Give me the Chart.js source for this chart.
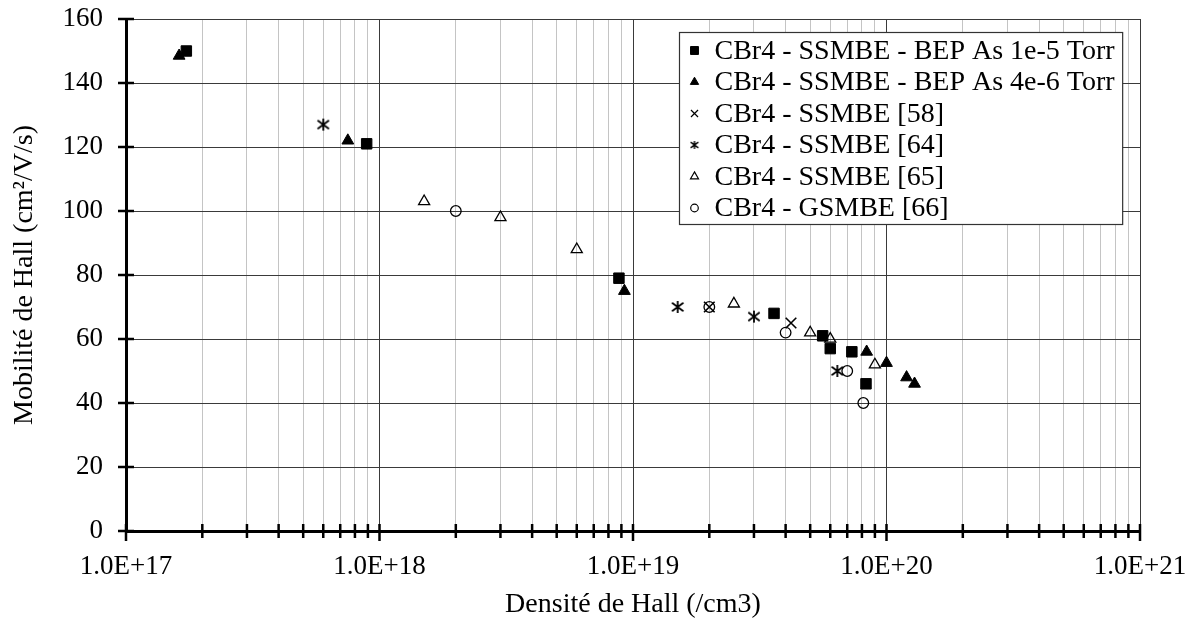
<!DOCTYPE html>
<html>
<head>
<meta charset="utf-8">
<script src="https://cdn.jsdelivr.net/npm/chart.js@4/dist/chart.umd.min.js"></script>
<style>html,body{margin:0;padding:0;background:#fff;}canvas{display:block;}</style>
</head>
<body>
<canvas id="c" width="1195" height="640"></canvas>
<script>
// ---- data ----
const seriesLabels = [
  'CBr4 - SSMBE - BEP As 1e-5 Torr',
  'CBr4 - SSMBE - BEP As 4e-6 Torr',
  'CBr4 - SSMBE [58]',
  'CBr4 - SSMBE [64]',
  'CBr4 - SSMBE [65]',
  'CBr4 - GSMBE [66]'
];
const sqX = [1.73e17, 8.9e17, 8.8e18, 3.6e19, 5.6e19, 6.0e19, 7.3e19, 8.3e19];
const sqY = [150, 121, 79, 68, 61, 57, 56, 46];
const triX = [1.62e17, 7.5e17, 9.25e18, 8.35e19, 1.0e20, 1.2e20, 1.29e20];
const triY = [148.5, 122, 75, 56, 52.5, 48, 46];
const x58X = [2.0e19, 4.2e19];
const x58Y = [70, 65];
const ast64X = [6.0e17, 1.5e19, 3.0e19, 6.4e19];
const ast64Y = [127, 70, 67, 50];
const tri65X = [1.5e18, 3.0e18, 6.0e18, 2.5e19, 5.0e19, 6.0e19, 9.0e19];
const tri65Y = [103, 98, 88, 71, 62, 60, 52];
const circ66X = [2.0e18, 2.0e19, 4.0e19, 7.0e19, 8.1e19];
const circ66Y = [100, 70, 62, 50, 40];

const xDecades = [1e17, 1e18, 1e19, 1e20, 1e21];
const xTickLabels = ['1.0E+17', '1.0E+18', '1.0E+19', '1.0E+20', '1.0E+21'];
const xMinorMultipliers = [2, 3, 4, 5, 6, 7, 8, 9];
const yTicks = [0, 20, 40, 60, 80, 100, 120, 140, 160];
const xTitle = 'Densité de Hall (/cm3)';
const yTitle = 'Mobilité de Hall (cm²/V/s)';

// ---- helpers ----
const FONT = "'Liberation Serif','Times New Roman',serif";
function pts(xs, ys) { return xs.map((x, i) => ({ x: x, y: ys[i] })); }
function makeAsterisk(size, lw) {
  const c = document.createElement('canvas');
  c.width = size; c.height = size;
  const g = c.getContext('2d');
  const h = size / 2, r = h - 1;
  g.strokeStyle = '#000'; g.lineWidth = lw;
  g.beginPath();
  g.moveTo(h, h - r); g.lineTo(h, h + r);
  const dx = r * 0.95, dy = r * 0.72;
  g.moveTo(h - dx, h - dy); g.lineTo(h + dx, h + dy);
  g.moveTo(h - dx, h + dy); g.lineTo(h + dx, h - dy);
  g.stroke();
  return c;
}
const asteriskBig = makeAsterisk(14, 1.8);
const asteriskSmall = makeAsterisk(10, 1.4);

const allXTicks = [];
xDecades.forEach((d, i) => {
  allXTicks.push(d);
  if (i < xDecades.length - 1) xMinorMultipliers.forEach(m => allXTicks.push(m * d));
});
const isDecade = v => xDecades.indexOf(v) >= 0;

const datasets = [
  { label: seriesLabels[0], data: pts(sqX, sqY), pointStyle: 'rect', pointRadius: 7.4,
    backgroundColor: '#000', borderColor: '#000', borderWidth: 1,
    legendStyle: 'rect', legendRadius: 5.6 },
  { label: seriesLabels[1], data: pts(triX, triY), pointStyle: 'triangle', pointRadius: 6.8,
    backgroundColor: '#000', borderColor: '#000', borderWidth: 1,
    legendStyle: 'triangle', legendRadius: 4.8 },
  { label: seriesLabels[2], data: pts(x58X, x58Y), pointStyle: 'crossRot', pointRadius: 7.5,
    backgroundColor: 'rgba(0,0,0,0)', borderColor: '#000', borderWidth: 1.6,
    legendStyle: 'crossRot', legendRadius: 5 },
  { label: seriesLabels[3], data: pts(ast64X, ast64Y), pointStyle: asteriskBig, pointRadius: 6,
    backgroundColor: 'rgba(0,0,0,0)', borderColor: '#000', borderWidth: 1.6,
    legendStyle: asteriskSmall, legendRadius: 4 },
  { label: seriesLabels[4], data: pts(tri65X, tri65Y), pointStyle: 'triangle', pointRadius: 6.4,
    backgroundColor: 'rgba(0,0,0,0)', borderColor: '#000', borderWidth: 1.3,
    legendStyle: 'triangle', legendRadius: 4.6 },
  { label: seriesLabels[5], data: pts(circ66X, circ66Y), pointStyle: 'circle', pointRadius: 5.3,
    backgroundColor: 'rgba(0,0,0,0)', borderColor: '#000', borderWidth: 1.3,
    legendStyle: 'circle', legendRadius: 3.8 }
];

// crossing tick marks on both axes
const crossTicks = {
  id: 'crossTicks',
  afterDatasetsDraw(chart) {
    const { ctx, chartArea: a, scales } = chart;
    const xs = scales.x, ys = scales.y;
    ctx.save();
    ctx.strokeStyle = '#000';
    ctx.lineWidth = 2.5;
    ctx.beginPath();
    xs.ticks.forEach(t => {
      const px = xs.getPixelForValue(t.value);
      const major = isDecade(t.value);
      ctx.moveTo(px, a.bottom - 7);
      ctx.lineTo(px, a.bottom + (major ? 10 : 7));
    });
    ys.ticks.forEach(t => {
      const py = ys.getPixelForValue(t.value);
      ctx.moveTo(a.left - 8, py);
      ctx.lineTo(a.left + 8, py);
    });
    ctx.stroke();
    ctx.restore();
  }
};

function drawMarker(ctx, style, radius, x, y) {
  if (Chart.helpers && Chart.helpers.drawPoint) {
    ctx.beginPath();
    Chart.helpers.drawPoint(ctx, { pointStyle: style, radius: radius, rotation: 0, borderWidth: ctx.lineWidth }, x, y);
  }
}

// framed legend inside the plot area
const boxLegend = {
  id: 'boxLegend',
  afterDraw(chart) {
    const ctx = chart.ctx, a = chart.chartArea;
    const ds = chart.data.datasets;
    ctx.save();
    ctx.font = '28px ' + FONT;
    const tw = Math.max.apply(null, ds.map(d => ctx.measureText(d.label).width));
    const rowH = 31.5;
    const w = 35 + tw + 8;
    const h = 18 + (ds.length - 1) * rowH + 16.5;
    const right = a.right - 18;
    const left = Math.round(right - w) + 0.5;
    const top = Math.round(a.top + 13) + 0.5;
    ctx.fillStyle = '#fff';
    ctx.fillRect(left, top, w, h);
    ctx.strokeStyle = '#333';
    ctx.lineWidth = 1.2;
    ctx.strokeRect(left, top, w, h);
    ds.forEach((d, i) => {
      const cy = top + 18 + i * rowH;
      ctx.fillStyle = d.backgroundColor;
      ctx.strokeStyle = d.borderColor;
      ctx.lineWidth = Math.min(d.borderWidth, 1.2);
      drawMarker(ctx, d.legendStyle, d.legendRadius, left + 15, cy);
      ctx.fillStyle = '#000';
      ctx.textBaseline = 'middle';
      ctx.textAlign = 'left';
      ctx.fillText(d.label, left + 35, cy + 1);
    });
    ctx.restore();
  }
};

new Chart(document.getElementById('c'), {
  type: 'scatter',
  data: { datasets: datasets },
  options: {
    responsive: false,
    animation: false,
    devicePixelRatio: 1,
    events: [],
    layout: { padding: { left: 0, top: 19, right: 55, bottom: 0 } },
    plugins: { legend: { display: false }, tooltip: { enabled: false } },
    scales: {
      x: {
        type: 'logarithmic',
        min: xDecades[0],
        max: xDecades[xDecades.length - 1],
        afterBuildTicks: s => { s.ticks = allXTicks.map(v => ({ value: v })); },
        afterFit: s => { s.height = 109; s.paddingLeft = 0; s.paddingRight = 0; },
        ticks: {
          autoSkip: false, maxRotation: 0, minRotation: 0, padding: 20,
          color: '#000', font: { family: FONT, size: 27 },
          callback: v => { const i = xDecades.indexOf(v); return i >= 0 ? xTickLabels[i] : ''; }
        },
        grid: {
          drawTicks: false, lineWidth: 1,
          color: c => (c.tick && isDecade(c.tick.value)) ? '#3a3a3a' : '#c4c4c4'
        },
        border: { display: true, color: '#000', width: 3 },
        title: { display: true, text: xTitle, color: '#000',
                 font: { family: FONT, size: 28 }, padding: { top: 19, bottom: 19 } }
      },
      y: {
        min: yTicks[0],
        max: yTicks[yTicks.length - 1],
        afterBuildTicks: s => { s.ticks = yTicks.map(v => ({ value: v })); },
        afterFit: s => { s.width = 126; s.paddingTop = 0; s.paddingBottom = 0; },
        ticks: { padding: 23, color: '#000', font: { family: FONT, size: 27 } },
        grid: { drawTicks: false, lineWidth: 1, color: '#3a3a3a' },
        border: { display: true, color: '#000', width: 3 },
        title: { display: true, text: yTitle, color: '#000',
                 font: { family: FONT, size: 28 }, padding: { top: 8, bottom: 8 } }
      }
    }
  },
  plugins: [crossTicks, boxLegend]
});
</script>
</body>
</html>
